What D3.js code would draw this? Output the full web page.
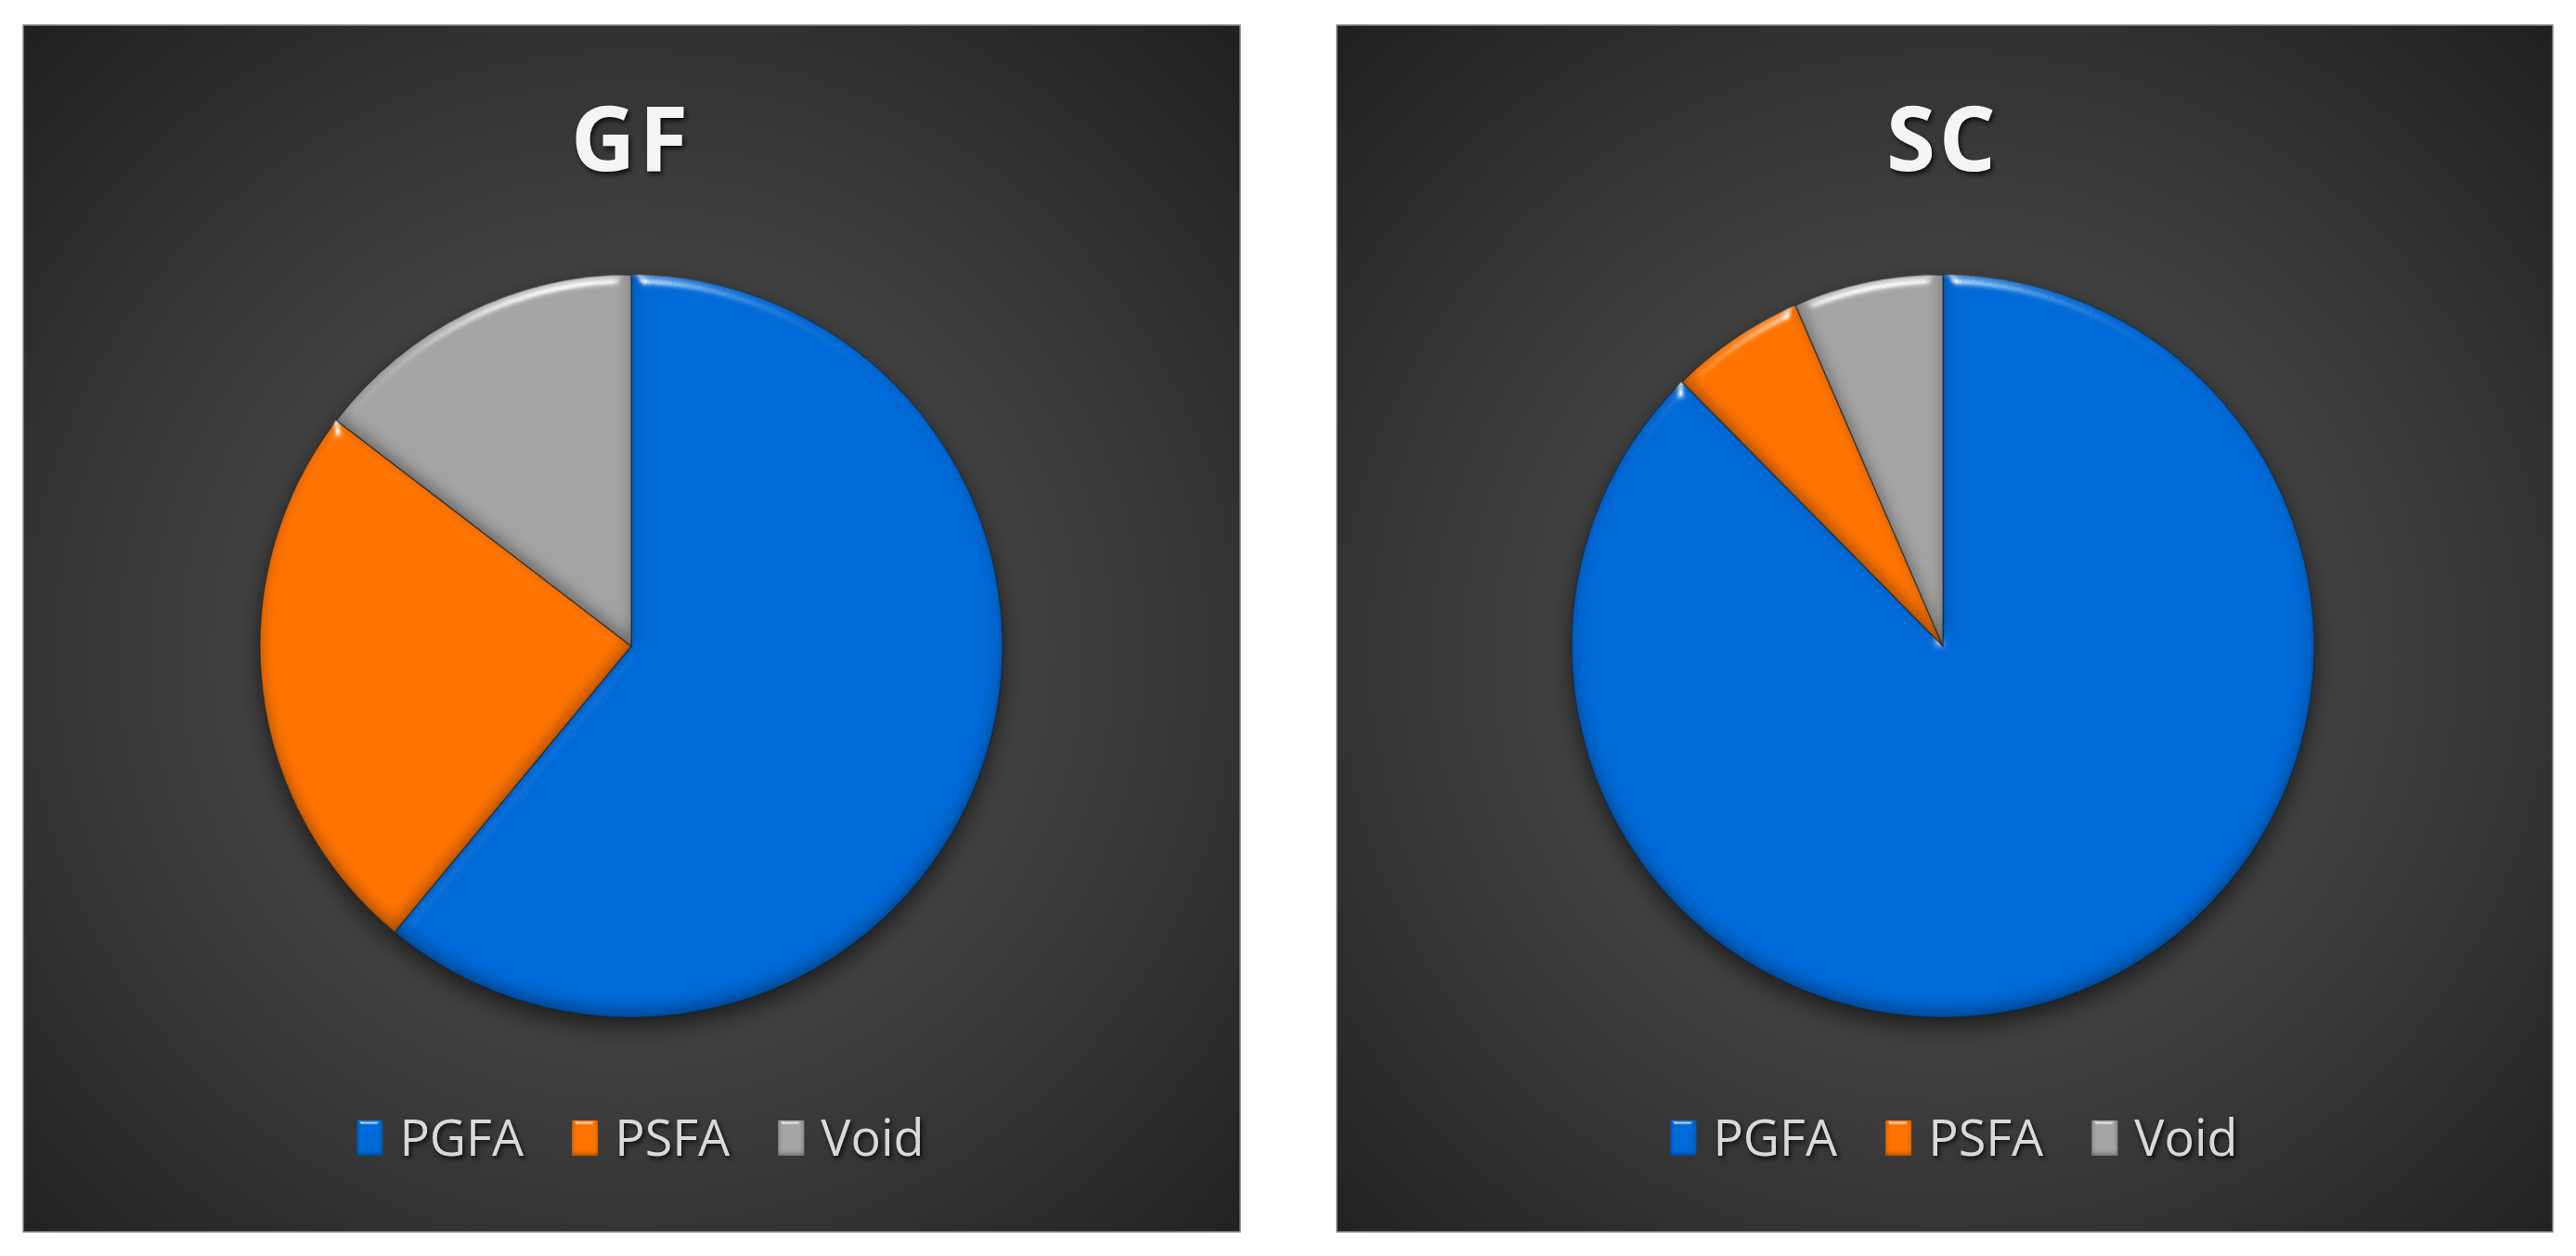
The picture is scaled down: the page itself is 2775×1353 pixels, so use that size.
<!DOCTYPE html>
<html>
<head>
<meta charset="utf-8">
<script src="https://cdn.jsdelivr.net/npm/d3@7"></script>
<style>
  body { margin: 0; background: #ffffff; }
  svg { display: block; }
</style>
</head>
<body>
<div id="chart"></div>
<script>
// data (shares in %)
var categories = ["PGFA", "PSFA", "Void"];
var gfValues = [61.0, 24.4, 14.6];
var scValues = [87.6, 5.9, 6.5];
var chartTitles = ["GF", "SC"];

var colors = ["#006ad8", "#ff7400", "#a4a4a4"];

var svgWidth = 2775;
var svgHeight = 1353;

var svg = d3.select("#chart")
  .append("svg")
  .attr("width", svgWidth)
  .attr("height", svgHeight);

var defs = svg.append("defs");

// panel background
var bg = defs.append("radialGradient")
  .attr("id", "panelBg")
  .attr("cx", "50%").attr("cy", "52%").attr("r", "72%");
bg.append("stop").attr("offset", "0%").attr("stop-color", "#4b4b4b");
bg.append("stop").attr("offset", "45%").attr("stop-color", "#414141");
bg.append("stop").attr("offset", "100%").attr("stop-color", "#202020");

// soft shadow under the pie
var shadow = defs.append("filter")
  .attr("id", "pieShadow")
  .attr("color-interpolation-filters", "sRGB")
  .attr("x", "-20%").attr("y", "-20%").attr("width", "140%").attr("height", "140%");
shadow.append("feDropShadow")
  .attr("dx", 0).attr("dy", 10)
  .attr("stdDeviation", 12)
  .attr("flood-color", "#000")
  .attr("flood-opacity", 0.55);

// bevel look of each slice
function bevelFilter(id, blur, surf, expo) {
  var f = defs.append("filter")
    .attr("id", id)
    .attr("color-interpolation-filters", "sRGB")
    .attr("x", "-5%").attr("y", "-5%").attr("width", "110%").attr("height", "110%");
  f.append("feGaussianBlur").attr("in", "SourceAlpha").attr("stdDeviation", blur).attr("result", "blur");
  f.append("feSpecularLighting")
    .attr("in", "blur")
    .attr("surfaceScale", surf)
    .attr("specularConstant", 0.9)
    .attr("specularExponent", expo)
    .attr("lighting-color", "#ffffff")
    .attr("result", "spec")
    .append("feDistantLight").attr("azimuth", -100).attr("elevation", 32);
  f.append("feComposite").attr("in", "spec").attr("in2", "SourceAlpha").attr("operator", "in").attr("result", "specIn");
  f.append("feOffset").attr("in", "SourceAlpha").attr("dy", -blur).attr("result", "off");
  f.append("feGaussianBlur").attr("in", "off").attr("stdDeviation", blur).attr("result", "offb");
  f.append("feComposite").attr("in", "SourceAlpha").attr("in2", "offb").attr("operator", "out").attr("result", "inner");
  f.append("feFlood").attr("flood-color", "#000").attr("flood-opacity", 0.35).attr("result", "dark");
  f.append("feComposite").attr("in", "dark").attr("in2", "inner").attr("operator", "in").attr("result", "innerShadow");
  var m = f.append("feMerge");
  m.append("feMergeNode").attr("in", "SourceGraphic");
  m.append("feMergeNode").attr("in", "innerShadow");
  m.append("feMergeNode").attr("in", "specIn");
}
bevelFilter("bevel", 8, 8, 55);
bevelFilter("bevelSmall", 2.5, 3, 60);

var textShadow = defs.append("filter")
  .attr("id", "textShadow")
  .attr("color-interpolation-filters", "sRGB")
  .attr("x", "-20%").attr("y", "-20%").attr("width", "140%").attr("height", "140%");
textShadow.append("feDropShadow")
  .attr("dx", 2).attr("dy", 3)
  .attr("stdDeviation", 2.5)
  .attr("flood-color", "#000")
  .attr("flood-opacity", 0.75);

var panels = [
  { x: 25, y: 27, w: 1311, h: 1300, cx: 680, cy: 696, title: chartTitles[0], values: gfValues, legendShift: 10 },
  { x: 1440, y: 27, w: 1310, h: 1300, cx: 2093, cy: 696, title: chartTitles[1], values: scValues, legendShift: 12 }
];

var radius = 400;

var pie = d3.pie().sort(null).value(d => d.value);
var arc = d3.arc().innerRadius(0).outerRadius(radius);

panels.forEach(function(p) {
  var g = svg.append("g");

  g.append("rect")
    .attr("x", p.x).attr("y", p.y)
    .attr("width", p.w).attr("height", p.h)
    .attr("fill", "url(#panelBg)")
    .attr("stroke", "#8a8a8a")
    .attr("stroke-width", 1.5);

  // title
  g.append("text")
    .attr("x", p.cx)
    .attr("y", 184)
    .attr("text-anchor", "middle")
    .attr("font-family", "'Open Sans', sans-serif")
    .attr("font-weight", "bold")
    .attr("font-size", "96px")
    .attr("letter-spacing", "4px")
    .attr("fill", "#f4f4f4")
    .attr("filter", "url(#textShadow)")
    .text(p.title);

  var data = categories.map((c, i) => ({ name: c, value: p.values[i], color: colors[i] }));

  var pieGroup = g.append("g")
    .attr("transform", `translate(${p.cx}, ${p.cy})`)
    .attr("filter", "url(#pieShadow)");

  pieGroup.selectAll("path")
    .data(pie(data))
    .enter()
    .append("path")
    .attr("d", arc)
    .attr("fill", d => d.data.color)
    .attr("stroke", "rgba(30,45,60,0.55)")
    .attr("stroke-width", 1.5)
    .attr("filter", "url(#bevel)");

  // legend
  var legend = g.append("g");
  var items = legend.selectAll("g")
    .data(data)
    .enter()
    .append("g");

  items.append("rect")
    .attr("width", 28)
    .attr("height", 38)
    .attr("y", -38)
    .attr("fill", d => d.color)
    .attr("filter", "url(#bevelSmall)");

  items.append("text")
    .attr("x", 46)
    .attr("y", 0)
    .attr("font-family", "'Open Sans', sans-serif")
    .attr("font-size", "54px")
    .attr("fill", "#d9d9d9")
    .attr("filter", "url(#textShadow)")
    .text(d => d.name);

  var xPos = 0;
  items.each(function() {
    var item = d3.select(this);
    var w = 46 + item.select("text").node().getComputedTextLength();
    item.attr("transform", `translate(${xPos}, 0)`);
    xPos += w + 52;
  });
  var total = xPos - 52;
  legend.attr("transform", `translate(${p.cx + p.legendShift - total / 2}, 1245)`);
});
</script>
</body>
</html>
